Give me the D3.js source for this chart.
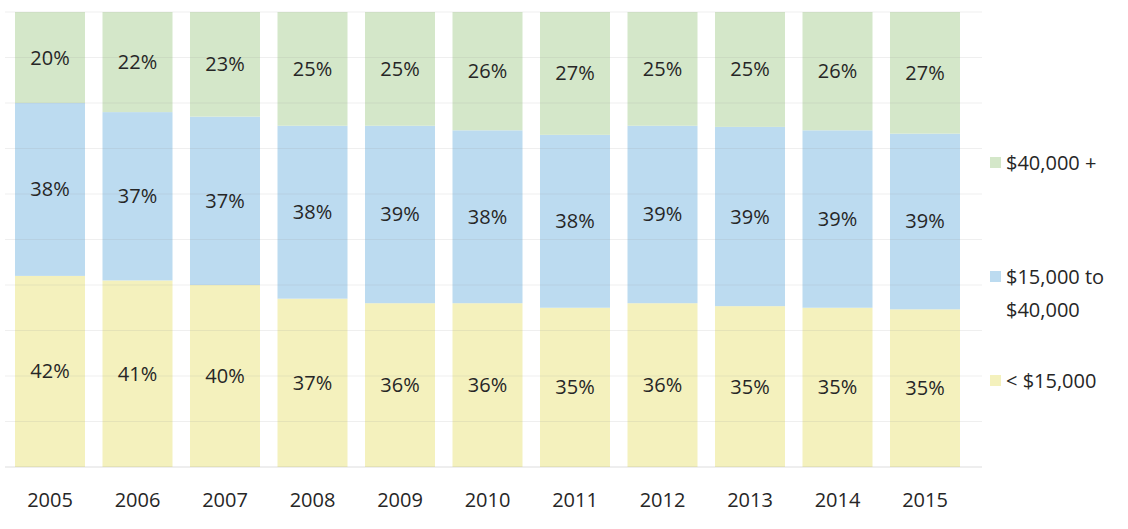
<!DOCTYPE html>
<html>
<head>
<meta charset="utf-8">
<script src="https://cdn.jsdelivr.net/npm/d3@7"></script>
<style>
  body { margin: 0; background: #fff; }
  text { font-family: "Open Sans", "Noto Sans", sans-serif; fill: #262626; }
</style>
</head>
<body>
<div id="chart"></div>
<script>
// stacked shares by year
const years = ["2005", "2006", "2007", "2008", "2009", "2010", "2011", "2012", "2013", "2014", "2015"];
const low = [42, 41, 40, 37, 36, 36, 35, 36, 35, 35, 35];      // < $15,000
const mid = [38, 37, 37, 38, 39, 38, 38, 39, 39, 39, 39];      // $15,000 to $40,000
const high = [20, 22, 23, 25, 25, 26, 27, 25, 25, 26, 27];     // $40,000 +
const keys = ["low", "mid", "high"];
const legendLabels = [["$40,000 +"], ["$15,000 to", "$40,000"], ["< $15,000"]];

let width = 1128, height = 529,
  margin = ({ top: 12, right: 168, bottom: 62, left: 15 });

const colors = { low: "#f4f1bd", mid: "#bcdbf0", high: "#d4e7c9" };

const svg = d3.select("#chart")
  .append("svg")
  .attr("width", width)
  .attr("height", height);

let data = years.map((y, i) => ({ year: y, low: low[i], mid: mid[i], high: high[i] }));
// rounded shares don't always add to 100, so expand each bar to full height
let series = d3.stack().keys(keys).offset(d3.stackOffsetExpand)(data);

let x = d3.scaleBand()
  .domain(years)
  .range([margin.left, width - margin.right])
  .paddingInner(0.2)
  .paddingOuter(0);

let y = d3.scaleLinear()
  .domain([0, 1])
  .range([height - margin.bottom, margin.top]);

// bars
svg.append("g")
  .selectAll("g")
  .data(series)
  .join("g")
    .attr("fill", d => colors[d.key])
  .selectAll("rect")
  .data(d => d)
  .join("rect")
    .attr("x", d => x(d.data.year))
    .attr("y", d => y(d[1]))
    .attr("width", x.bandwidth())
    .attr("height", d => y(d[0]) - y(d[1]));

// faint gridlines on top of bars
svg.append("g")
  .selectAll("line")
  .data(d3.range(0.1, 1.01, 0.1))
  .join("line")
    .attr("x1", 5)
    .attr("x2", width - margin.right + 22)
    .attr("y1", d => y(d))
    .attr("y2", d => y(d))
    .attr("stroke", "#9a9a9a")
    .attr("stroke-opacity", 0.16);

svg.append("line")
  .attr("x1", 5)
  .attr("x2", width - margin.right + 22)
  .attr("y1", y(0))
  .attr("y2", y(0))
  .attr("stroke", "#8a8a8a")
  .attr("stroke-opacity", 0.3);

// value labels
svg.append("g")
  .selectAll("g")
  .data(series)
  .join("g")
  .selectAll("text")
  .data(d => d.map(v => Object.assign(v, { key: d.key })))
  .join("text")
    .attr("x", d => x(d.data.year) + x.bandwidth() / 2)
    .attr("y", d => (y(d[0]) + y(d[1])) / 2)
    .attr("dy", "0.35em")
    .attr("text-anchor", "middle")
    .style("font-size", "20px")
    .text(d => d.data[d.key] + "%");

// year axis
svg.append("g")
  .attr("transform", `translate(0,${height - margin.bottom})`)
  .call(d3.axisBottom(x).tickSize(0).tickPadding(26))
  .call(g => g.select(".domain").remove())
  .selectAll("text")
    .style("font-size", "20px")
    .attr("fill", "#262626");

// legend
const legendY = [163, 277, 381];
const legendKeys = ["high", "mid", "low"];
const legend = svg.append("g")
  .selectAll("g")
  .data(legendKeys)
  .join("g")
    .attr("transform", (d, i) => `translate(990,${legendY[i]})`);

legend.append("rect")
  .attr("x", 0)
  .attr("y", -6)
  .attr("width", 11)
  .attr("height", 11)
  .attr("fill", d => colors[d]);

legend.append("text")
  .style("font-size", "20px")
  .selectAll("tspan")
  .data((d, i) => legendLabels[i])
  .join("tspan")
    .attr("x", 16)
    .attr("dy", (d, j) => j === 0 ? "0.35em" : "1.65em")
    .text(d => d);
</script>
</body>
</html>
